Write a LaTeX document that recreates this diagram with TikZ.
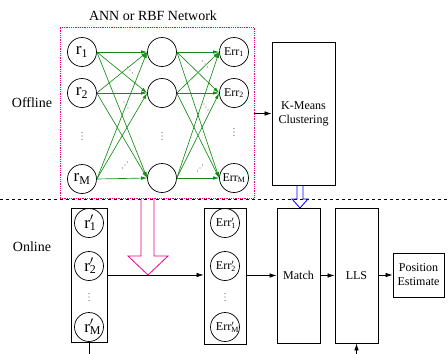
\documentclass[tikz,border=0pt]{standalone}
\usepackage{fontspec}
\setmainfont{Liberation Serif}
\usetikzlibrary{arrows.meta}
\definecolor{linkgreen}{RGB}{20,140,20}
\definecolor{dotgray}{RGB}{110,110,110}
% primed symbol with subscript: base, subscript
\newcommand\prsub[2]{#1\rlap{\textsubscript{#2}}$'$}
% row of three small dots: centre x, centre y, step x, step y
\newcommand\dotrow[4]{\foreach \k in {-1,0,1}{\fill[dotgray] (#1+\k*#3, #2+\k*#4) circle (0.55pt);}}
\begin{document}
\begin{tikzpicture}[x=1pt,y=-1pt,
  neuron/.style={draw, circle, minimum size=29pt, inner sep=0pt, line width=0.7pt},
  rlab/.style={font=\fontsize{17}{18}\selectfont},
  elab/.style={font=\fontsize{12}{13}\selectfont},
  link/.style={draw=linkgreen, line width=0.65pt, -{Latex[length=6pt,width=3.5pt]}},
  flow/.style={draw, line width=0.7pt, -{Latex[length=7pt,width=4.5pt]}},
  block/.style={draw, line width=0.8pt, align=center, inner sep=0pt, font=\fontsize{12}{14}\selectfont},
  tag/.style={font=\fontsize{14}{16}\selectfont},
]
\useasboundingbox (0,0) rectangle (448,354);

% ---------- offline part ----------
\node[draw=magenta, densely dotted, line width=0.8pt, minimum width=194pt, minimum height=171pt] (net) at (157,112.5) {};
\node[tag] (title) at (153,16) {ANN or RBF Network};
\node[tag] (offline) at (32,103) {Offline};

\node[neuron, rlab] (i1) at (82,52) {r\textsubscript{1}};
\node[neuron, rlab] (i2) at (82,93) {r\textsubscript{2}};
\node[neuron, rlab] (iM) at (82,179) {r\textsubscript{M}};
\node[neuron] (h1) at (162,52) {};
\node[neuron] (h2) at (162,93) {};
\node[neuron] (hM) at (162,178) {};
\node[neuron, elab] (o1) at (234,52) {Err\textsubscript{1}};
\node[neuron, elab] (o2) at (234,93) {Err\textsubscript{2}};
\node[neuron, elab] (oM) at (234,178) {Err\textsubscript{M}};

\foreach \a in {i1,i2,iM}{\foreach \b in {h1,h2,hM}{\draw[link] (\a.east) -- (\b.west);}}
\foreach \a in {h1,h2,hM}{\foreach \b in {o1,o2,oM}{\draw[link] (\a.east) -- (\b.west);}}

% elision dots
\dotrow{82}{136}{0}{3.5}
\dotrow{162}{136}{0}{3.5}
\dotrow{234}{132}{0}{3.5}
\dotrow{130}{70}{2.5}{3}
\dotrow{126}{105}{2}{3}
\dotrow{125}{165}{2.5}{-3}
\dotrow{205}{64}{2.5}{3}
\dotrow{206}{107}{2}{3}
\dotrow{200}{168}{2.5}{-3}

\node[block, minimum width=63pt, minimum height=143pt] (kmeans) at (303.5,113.5) {K-Means\\Clustering};
\draw[flow] (net.east |- kmeans.west) -- (kmeans.west);

% ---------- divider ----------
\coordinate (divL) at (0,199);
\coordinate (divR) at (448,199);
\draw[dashed, line width=0.6pt] (divL) -- (divR);

% ---------- online part ----------
\node[tag] (online) at (32,247) {Online};

\node[draw, line width=0.8pt, minimum width=36pt, minimum height=134pt] (rbox) at (89,275) {};
\node[neuron, rlab] (p1) at (89,223) {\prsub{r}{1}};
\node[neuron, rlab] (p2) at (89,266) {\prsub{r}{2}};
\node[neuron, rlab] (pM) at (89,327) {\prsub{r}{M}};
\dotrow{89}{297}{0}{3.5}

\node[draw, line width=0.8pt, minimum width=42pt, minimum height=136pt] (ebox) at (225,276) {};
\node[neuron, elab] (q1) at (225,223) {\prsub{Err}{1}};
\node[neuron, elab] (q2) at (225,266) {\prsub{Err}{2}};
\node[neuron, elab] (qM) at (225,327) {\prsub{Err}{M}};
\dotrow{225}{297}{0}{3.5}

\node[block, minimum width=43pt, minimum height=135pt] (match) at (298.5,275.5) {Match};
\node[block, minimum width=43pt, minimum height=135pt] (lls) at (356.5,275.5) {LLS};
\node[block, minimum width=51pt, minimum height=44pt] (pos) at (418.5,275) {Position\\Estimate};

\draw[flow] (rbox.east) -- (ebox.west |- rbox.east);
\draw[flow] (ebox.east |- match.west) -- (match.west);
\draw[flow] (match.east) -- (lls.west);
\draw[flow] (lls.east |- pos.west) -- (pos.west);

\coordinate (rin) at (89,354);
\draw[line width=0.8pt] (rbox.south) -- (rin);
\coordinate (llsin) at (356.5,354);
\draw[flow] (llsin) -- (lls.south);

% hollow arrows
\draw[magenta, line width=0.8pt, line join=miter]
  (141,199) -- (141,256) -- (128,256) -- (148,275) -- (168,256) -- (154,256) -- (154,199);
\draw[blue, line width=0.8pt, line join=miter]
  (297,185) -- (297,199) -- (292,199) -- (300,208) -- (308,199) -- (303,199) -- (303,185);
\end{tikzpicture}
\end{document}
